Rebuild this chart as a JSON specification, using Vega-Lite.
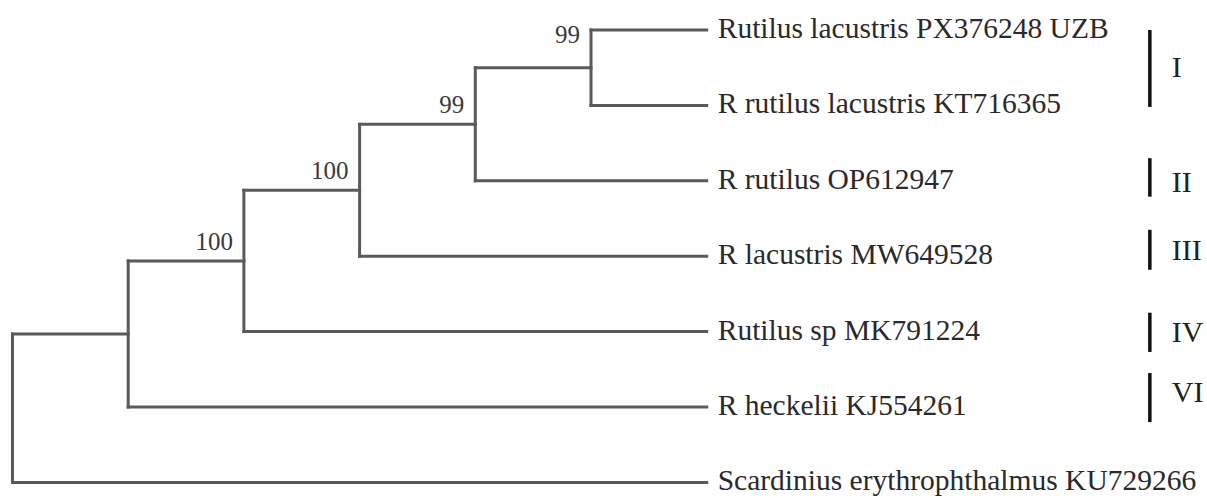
{
  "$schema": "https://vega.github.io/schema/vega-lite/v6.json",
  "width": 1207,
  "height": 498,
  "autosize": {"type": "fit", "contains": "padding"},
  "padding": 0,
  "background": "white",
  "config": {"view": {"stroke": null}},
  "datasets": {
    "branches": [
      {"x": 0, "x2": 1, "y": 4.031, "y2": 4.031},
      {"x": 0, "x2": 6, "y": 6, "y2": 6},
      {"x": 0, "x2": 0, "y": 4.031, "y2": 6},
      {"x": 1, "x2": 2, "y": 3.0625, "y2": 3.0625},
      {"x": 1, "x2": 6, "y": 5, "y2": 5},
      {"x": 1, "x2": 1, "y": 3.0625, "y2": 5},
      {"x": 2, "x2": 3, "y": 2.125, "y2": 2.125},
      {"x": 2, "x2": 6, "y": 4, "y2": 4},
      {"x": 2, "x2": 2, "y": 2.125, "y2": 4},
      {"x": 3, "x2": 4, "y": 1.25, "y2": 1.25},
      {"x": 3, "x2": 6, "y": 3, "y2": 3},
      {"x": 3, "x2": 3, "y": 1.25, "y2": 3},
      {"x": 4, "x2": 5, "y": 0.5, "y2": 0.5},
      {"x": 4, "x2": 6, "y": 2, "y2": 2},
      {"x": 4, "x2": 4, "y": 0.5, "y2": 2},
      {"x": 5, "x2": 6, "y": 0, "y2": 0},
      {"x": 5, "x2": 6, "y": 1, "y2": 1},
      {"x": 5, "x2": 5, "y": 0, "y2": 1}
    ],
    "leaves": [
      {"name": "Rutilus lacustris PX376248 UZB", "x": 6, "y": 0},
      {"name": "R rutilus lacustris KT716365", "x": 6, "y": 1},
      {"name": "R rutilus OP612947", "x": 6, "y": 2},
      {"name": "R lacustris MW649528", "x": 6, "y": 3},
      {"name": "Rutilus sp MK791224", "x": 6, "y": 4},
      {"name": "R heckelii KJ554261", "x": 6, "y": 5},
      {"name": "Scardinius erythrophthalmus KU729266", "x": 6, "y": 6}
    ],
    "support": [
      {"value": "99", "x": 5, "y": 0.32},
      {"value": "99", "x": 4, "y": 1.25},
      {"value": "100", "x": 3, "y": 2.125},
      {"value": "100", "x": 2, "y": 3.0625}
    ],
    "clades": [
      {"clade": "I", "y": 0.0, "y2": 1.02, "ly": 0.5},
      {"clade": "II", "y": 1.7, "y2": 2.21, "ly": 2.03},
      {"clade": "III", "y": 2.65, "y2": 3.18, "ly": 2.93},
      {"clade": "IV", "y": 3.75, "y2": 4.27, "ly": 4.02},
      {"clade": "VI", "y": 4.55, "y2": 5.2, "ly": 4.82}
    ]
  },
  "layer": [
    {
      "data": {"name": "branches"},
      "mark": {"type": "rule", "color": "#5a5a5a", "strokeWidth": 3, "strokeCap": "square"},
      "encoding": {
        "x": {"field": "x", "type": "quantitative", "scale": {"domain": [-0.108, 10.324], "nice": false, "zero": false}, "axis": null},
        "x2": {"field": "x2"},
        "y": {"field": "y", "type": "quantitative", "scale": {"domain": [-0.398, 6.207], "nice": false, "zero": false, "reverse": true}, "axis": null},
        "y2": {"field": "y2"}
      }
    },
    {
      "data": {"name": "leaves"},
      "mark": {"type": "text", "align": "left", "baseline": "middle", "dx": 11, "dy": -1, "font": "Liberation Serif", "fontSize": 29.5, "color": "#2a2a2a"},
      "encoding": {
        "x": {"field": "x", "type": "quantitative", "scale": {"domain": [-0.108, 10.324], "nice": false, "zero": false}, "axis": null},
        "y": {"field": "y", "type": "quantitative", "scale": {"domain": [-0.398, 6.207], "nice": false, "zero": false, "reverse": true}, "axis": null},
        "text": {"field": "name"}
      }
    },
    {
      "data": {"name": "support"},
      "mark": {"type": "text", "align": "right", "baseline": "alphabetic", "dx": -11, "dy": -11, "font": "Liberation Serif", "fontSize": 25, "color": "#3a3a3a"},
      "encoding": {
        "x": {"field": "x", "type": "quantitative", "scale": {"domain": [-0.108, 10.324], "nice": false, "zero": false}, "axis": null},
        "y": {"field": "y", "type": "quantitative", "scale": {"domain": [-0.398, 6.207], "nice": false, "zero": false, "reverse": true}, "axis": null},
        "text": {"field": "value"}
      }
    },
    {
      "data": {"name": "clades"},
      "mark": {"type": "rule", "color": "#111111", "strokeWidth": 3.5},
      "encoding": {
        "x": {"datum": 9.83, "type": "quantitative", "scale": {"domain": [-0.108, 10.324], "nice": false, "zero": false}, "axis": null},
        "y": {"field": "y", "type": "quantitative", "scale": {"domain": [-0.398, 6.207], "nice": false, "zero": false, "reverse": true}, "axis": null},
        "y2": {"field": "y2"}
      }
    },
    {
      "data": {"name": "clades"},
      "mark": {"type": "text", "align": "left", "baseline": "middle", "dx": 22, "font": "Liberation Serif", "fontSize": 30, "color": "#222222"},
      "encoding": {
        "x": {"datum": 9.83, "type": "quantitative", "scale": {"domain": [-0.108, 10.324], "nice": false, "zero": false}, "axis": null},
        "y": {"field": "ly", "type": "quantitative", "scale": {"domain": [-0.398, 6.207], "nice": false, "zero": false, "reverse": true}, "axis": null},
        "text": {"field": "clade"}
      }
    }
  ]
}
